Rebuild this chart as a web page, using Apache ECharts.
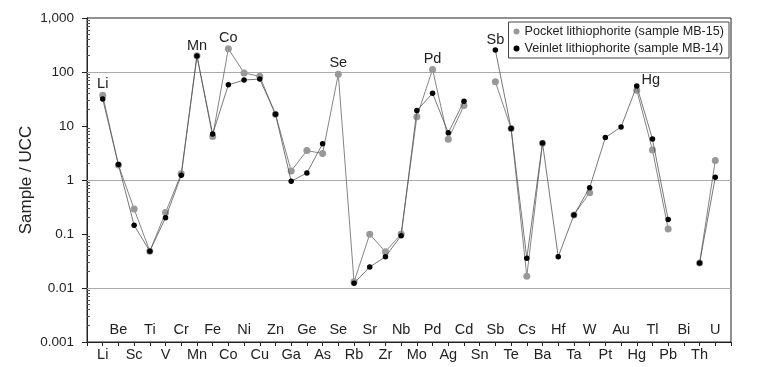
<!DOCTYPE html>
<html>
<head>
<meta charset="utf-8">
<script src="https://cdn.jsdelivr.net/npm/echarts@6/dist/echarts.min.js"></script>
<style>
  html, body { margin: 0; padding: 0; background: #fff; }
  #chart { width: 768px; height: 367px; }
</style>
</head>
<body>
<div id="chart"></div>
<script>
var elements = ['Li','Be','Sc','Ti','V','Cr','Mn','Fe','Co','Ni','Cu','Zn','Ga','Ge','As','Se','Rb','Sr','Zr','Nb',
                'Mo','Pd','Ag','Cd','Sn','Sb','Te','Cs','Ba','Hf','Ta','W','Pt','Au','Hg','Tl','Pb','Bi','Th','U'];

// Pocket lithiophorite (sample MB-15), normalised to UCC
var pocket = [37, 1.9, 0.29, 0.048, 0.25, 1.3, 200, 6.4, 270, 96, 83, 16.5, 1.47, 3.5, 3.1, 91, 0.013, 0.099, 0.047, 0.1,
              14.9, 111, 5.7, 24, null, 66, 9, 0.0165, 4.8, null, 0.225, 0.58, null, null, 46, 3.6, 0.124, null, 0.029, 2.3];

// Veinlet lithiophorite (sample MB-14)
var veinlet = [31.6, 1.93, 0.145, 0.048, 0.2, 1.22, 198, 7.1, 58, 71, 74, 16.5, 0.95, 1.35, 4.7, null, 0.0122, 0.0245, 0.038, 0.093,
               19.3, 40.3, 7.5, 28.7, null, 255, 8.95, 0.0355, 4.84, 0.038, 0.225, 0.72, 6.1, 9.6, 55, 5.75, 0.185, null, 0.029, 1.12];

var seriesNames = ['Pocket lithiophorite (sample MB-15)', 'Veinlet lithiophorite (sample MB-14)'];
var yTickLabels = ['0.001', '0.01', '0.1', '1', '10', '100', '1,000'];
var gridValues = [100, 1, 0.01];
// element name -> which series carries the annotation
var peakLabels = { Li: 0, Mn: 1, Co: 0, Se: 0, Pd: 0, Sb: 1, Hg: 1 };

var font = "'Liberation Sans', Arial, sans-serif";

// one empty slot on each side of the element list
var xData = [''].concat(elements, ['']);

function buildData(values, idx) {
  var out = [null];
  values.forEach(function (v, i) {
    var el = elements[i];
    if (peakLabels[el] === idx && v != null) {
      out.push({
        value: v,
        label: {
          show: true, position: 'top', distance: 0,
          formatter: el,
          offset: el === 'Hg' ? [14, 4] : [0, 0],
          fontFamily: font, fontSize: 14.5, color: '#222'
        }
      });
    } else {
      out.push(v);
    }
  });
  out.push(null);
  return out;
}

var myChart = echarts.init(document.getElementById('chart'));

var option = {
  animation: false,
  textStyle: { fontFamily: font },
  grid: {
    left: 87, right: 37, top: 18, bottom: 25,
    show: true, borderColor: '#222', borderWidth: 1,
    outerBoundsMode: 'none'
  },
  legend: {
    orient: 'vertical',
    right: 39, top: 22,
    icon: 'circle',
    itemWidth: 6, itemHeight: 6, itemGap: 4,
    padding: [3, 5, 3, 5],
    borderColor: '#444', borderWidth: 1,
    textStyle: { fontFamily: font, fontSize: 12.6, color: '#222' },
    data: seriesNames
  },
  xAxis: [{
    type: 'category',
    data: xData,
    boundaryGap: false,
    axisLine: { lineStyle: { color: '#222' } },
    axisTick: { show: true, length: 4, interval: 0, lineStyle: { color: '#222' } },
    axisLabel: {
      interval: 0, margin: 5,
      fontFamily: font, fontSize: 14.5, color: '#222',
      formatter: function (v, i) { return i % 2 === 1 ? v : ''; }
    },
    splitLine: { show: false }
  }, {
    type: 'category',
    data: xData,
    boundaryGap: false,
    position: 'bottom',
    axisLine: { show: false },
    axisTick: { show: false },
    axisLabel: {
      inside: true, interval: 0, margin: 5,
      fontFamily: font, fontSize: 14.5, color: '#222',
      formatter: function (v, i) { return i % 2 === 0 ? v : ''; }
    },
    splitLine: { show: false }
  }],
  yAxis: [{
    type: 'log',
    logBase: 10,
    min: 0.001, max: 1000,
    name: 'Sample / UCC',
    nameLocation: 'middle',
    nameGap: 52,
    nameMoveOverlap: false,
    nameTextStyle: { fontFamily: font, fontSize: 17, color: '#222' },
    axisLine: { show: true, lineStyle: { color: '#222' } },
    axisTick: { show: true, length: 5, lineStyle: { color: '#222' } },
    axisLabel: {
      margin: 13, fontFamily: font, fontSize: 13.5, color: '#222',
      formatter: function (v) { return yTickLabels[Math.round(Math.log10(v)) + 3]; }
    },
    splitLine: { show: false }
  }, {
    // only carries the small inside minor ticks
    type: 'log',
    logBase: 10,
    min: 0.001, max: 1000,
    position: 'left',
    axisLine: { show: true, lineStyle: { color: '#222' } },
    axisTick: { show: true, inside: true, length: 1, lineStyle: { color: '#222' } },
    axisLabel: { show: false },
    minorTick: { show: true, splitNumber: 9, length: 3, lineStyle: { color: '#555' } },
    splitLine: { show: false }
  }],
  series: [{
    name: seriesNames[0],
    type: 'line',
    data: buildData(pocket, 0),
    symbol: 'circle',
    symbolSize: 7,
    connectNulls: false,
    itemStyle: { color: '#999' },
    lineStyle: { color: '#666', width: 0.8 },
    z: 2,
    markLine: {
      silent: true, symbol: 'none', z: 1,
      label: { show: false },
      lineStyle: { color: '#aaa', type: 'solid', width: 1 },
      data: gridValues.map(function (v) { return { yAxis: v }; })
    }
  }, {
    name: seriesNames[1],
    type: 'line',
    data: buildData(veinlet, 1),
    symbol: 'circle',
    symbolSize: 5.5,
    connectNulls: false,
    itemStyle: { color: '#000' },
    lineStyle: { color: '#555', width: 0.8 },
    z: 3
  }]
};

myChart.setOption(option);
</script>
</body>
</html>
